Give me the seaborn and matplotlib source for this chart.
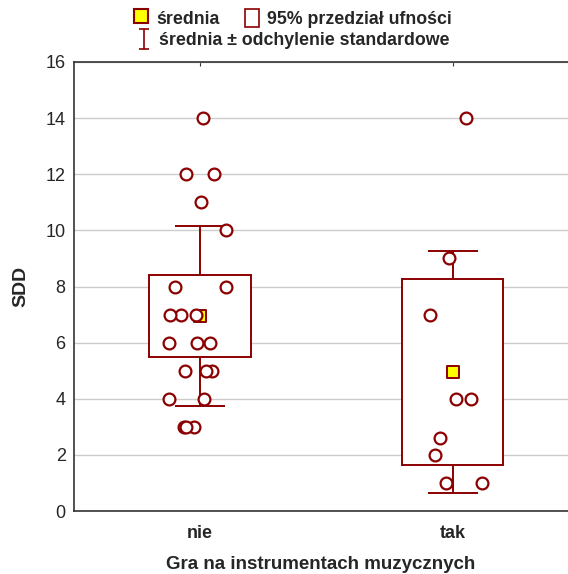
import numpy as np
import pandas as pd
import matplotlib
matplotlib.use("Agg")
import matplotlib.pyplot as plt
import seaborn as sns
from matplotlib.lines import Line2D
from matplotlib.patches import Patch
from matplotlib.path import Path

# data
groups = ["nie", "tak"]
sdd_nie = [14, 12, 12, 11, 10, 8, 8, 7, 7, 7, 6, 6, 6, 5, 5, 5, 4, 4, 3, 3, 3]
sdd_tak = [14, 9, 7, 4, 4, 2.6, 2, 1, 1]

y_ticks = [0, 2, 4, 6, 8, 10, 12, 14, 16]

df = pd.DataFrame({
    "gra": ["nie"] * len(sdd_nie) + ["tak"] * len(sdd_tak),
    "SDD": sdd_nie + sdd_tak,
})

# mean, sd and 95% CI per group
st = df.groupby("gra")["SDD"].agg(["mean", "std", "count"]).reindex(groups)
try:
    from scipy import stats as sps
    tval = sps.t.ppf(0.975, st["count"] - 1)
except ImportError:
    t_table = {20: 2.086, 8: 2.306}
    tval = np.array([t_table[n - 1] for n in st["count"]])
half = tval * st["std"] / np.sqrt(st["count"])
ci_lo = st["mean"] - half
ci_hi = st["mean"] + half

red = "#8b0000"

sns.set_style("white")
plt.rcParams["font.family"] = ["Liberation Sans", "DejaVu Sans"]

fig = plt.figure(figsize=(5.68, 5.74), dpi=100)
ax = fig.add_axes([74 / 568, 63 / 574, 494 / 568, 449 / 574])

np.random.seed(3)
sns.stripplot(data=df, x="gra", y="SDD", order=groups, jitter=0.13,
              color="white", edgecolor=red, linewidth=1.6, size=8.5,
              ax=ax, zorder=5)

pos = np.arange(len(groups))
ax.errorbar(pos, st["mean"], yerr=st["std"], fmt="none", ecolor=red,
            elinewidth=1.4, capsize=18, capthick=1.4, zorder=2)
ax.bar(pos, ci_hi - ci_lo, bottom=ci_lo, width=0.4, facecolor="white",
       edgecolor=red, linewidth=1.4, zorder=3)
ax.scatter(pos, st["mean"], marker="s", s=70, c="yellow", edgecolors=red,
           linewidths=1.4, zorder=4)

ax.set_xlim(-0.498, 1.455)
ax.set_ylim(0, 16)
ax.set_yticks(y_ticks)
ax.yaxis.grid(True, color="#cccccc", linewidth=1)
ax.set_axisbelow(True)

ax.tick_params(axis="x", direction="in", top=True, length=3, labelsize=13,
               color="#333333", pad=10)
ax.tick_params(axis="y", direction="in", length=3, labelsize=13,
               color="#333333", pad=6)
for lab in ax.get_xticklabels():
    lab.set_fontweight("bold")
for s in ["left", "bottom", "top"]:
    ax.spines[s].set_color("#333333")
    ax.spines[s].set_linewidth(1.2)
ax.spines["right"].set_visible(False)

ax.set_xlabel("Gra na instrumentach muzycznych", fontsize=13.5,
              fontweight="bold", labelpad=10)
ax.set_ylabel("SDD", fontsize=14, fontweight="bold", labelpad=12)

# legend, two rows
ibeam = Path([(-0.5, 1), (0.5, 1), (0, 1), (0, -1), (-0.5, -1), (0.5, -1)],
             [Path.MOVETO, Path.LINETO, Path.MOVETO, Path.LINETO,
              Path.MOVETO, Path.LINETO])
h_mean = Line2D([], [], marker="s", linestyle="none", markersize=10,
                markerfacecolor="yellow", markeredgecolor=red,
                markeredgewidth=1.5)
h_ci = Patch(facecolor="white", edgecolor=red, linewidth=1.2)
h_sd = Line2D([], [], marker=ibeam, linestyle="none", markersize=14,
              markeredgecolor=red, markeredgewidth=1.2)

leg_font = {"weight": "bold", "size": 12.8}
fig.legend([h_mean, h_ci], ["średnia", "95% przedział ufności"], ncol=2,
           loc="upper center", bbox_to_anchor=(0.516, 0.997), frameon=False,
           prop=leg_font, handlelength=0.8, handleheight=1.2,
           handletextpad=0.45, columnspacing=1.4, borderaxespad=0)
fig.legend([h_sd], ["średnia ± odchylenie standardowe"],
           loc="upper center", bbox_to_anchor=(0.516, 0.957), frameon=False,
           prop=leg_font, handlelength=0.8, handletextpad=0.45,
           borderaxespad=0)

fig.savefig("out.png", dpi=100)
